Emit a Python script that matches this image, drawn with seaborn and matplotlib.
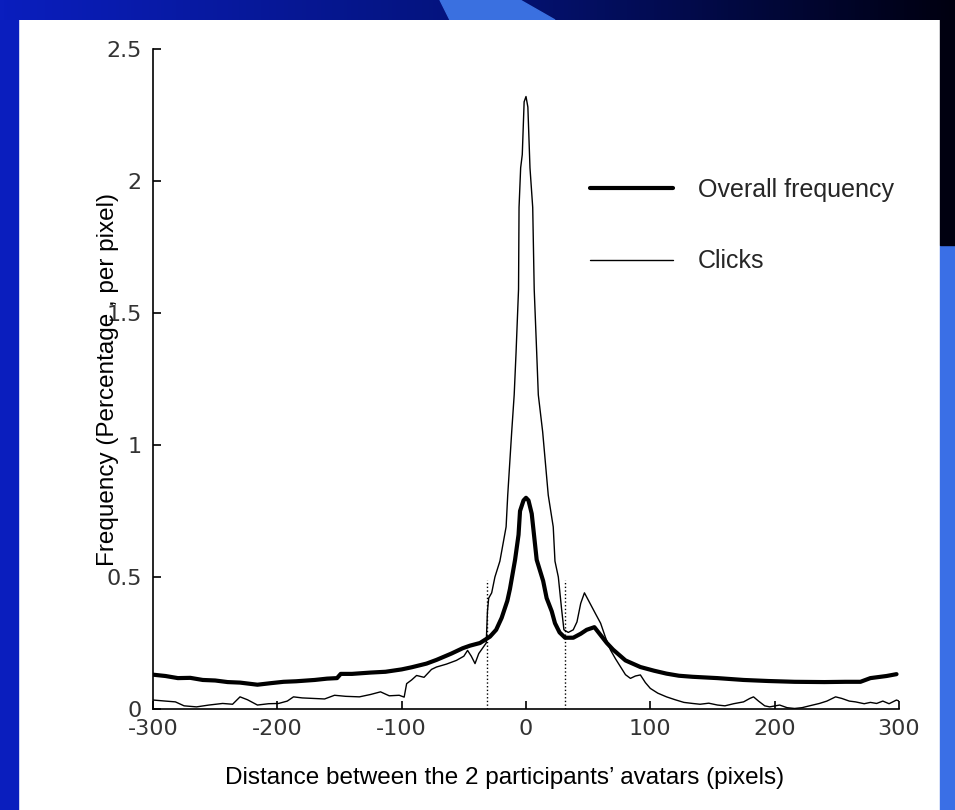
import numpy as np
import pandas as pd
import matplotlib
matplotlib.use("Agg")
import matplotlib.pyplot as plt
from matplotlib.patches import Rectangle, Polygon
from matplotlib.colors import LinearSegmentedColormap
import seaborn as sns

# Overall frequency (thick curve)
overall_x = [-300, -290, -280, -270, -260, -250, -240, -230, -216, -205, -195, -185,
             -170, -160, -152, -149, -140, -125, -113, -100, -92, -80, -72, -60, -51,
             -45, -37, -29, -24, -19.6, -15, -12.9, -8.8, -6, -4.8, -2, 0, 2, 4.6,
             8.6, 13.8, 16.6, 20.7, 23.3, 27, 31.4, 38, 44, 48.8, 55, 60, 65, 70, 80,
             92, 103, 113, 123, 134, 154, 175, 195, 216, 240, 257, 269, 277, 290, 298]
overall_y = [0.130, 0.125, 0.117, 0.118, 0.110, 0.108, 0.102, 0.100, 0.092, 0.098, 0.103, 0.105,
             0.110, 0.115, 0.117, 0.133, 0.133, 0.138, 0.141, 0.150, 0.158, 0.172, 0.186, 0.210, 0.230,
             0.240, 0.250, 0.274, 0.300, 0.345, 0.410, 0.455, 0.565, 0.660, 0.750, 0.790, 0.800, 0.790, 0.740,
             0.565, 0.485, 0.420, 0.370, 0.325, 0.290, 0.270, 0.270, 0.285, 0.300, 0.310, 0.280, 0.250, 0.225, 0.184,
             0.159, 0.145, 0.134, 0.126, 0.122, 0.117, 0.110, 0.106, 0.103, 0.102, 0.103, 0.103, 0.117, 0.125, 0.132]

# Clicks (thin curve)
clicks_x = [-300, -290, -282, -275, -265, -255, -244, -236, -230, -224, -216, -207, -199,
            -192, -187, -180, -171, -162, -154, -145, -134, -125, -117, -110, -102, -98,
            -96, -92, -88, -82, -76, -72, -64, -56, -50, -47, -44, -41, -38, -35, -32,
            -31, -30, -27.6, -25, -21, -16, -14.7, -11.5, -9.5, -8, -6, -5.6, -4.3, -3,
            -1.5, 0, 1.5, 3.2, 5.4, 6.6, 8.6, 9.9, 13.4, 17.9, 21.9, 23.3, 26, 28.7,
            30.5, 34, 38, 41, 44, 47, 51.5, 56, 60, 64, 68, 72, 76, 80, 84, 88, 92, 96,
            100, 106, 113, 120, 127, 134, 140, 147, 154, 160, 167, 175, 180, 183, 187,
            192, 196, 204, 210, 216, 222, 228, 236, 242, 249, 254, 260, 265, 272, 277,
            282, 287, 292, 298, 300]
clicks_y = [0.034, 0.030, 0.027, 0.012, 0.008, 0.015, 0.021, 0.018, 0.046, 0.035, 0.015, 0.020, 0.021,
            0.030, 0.046, 0.042, 0.040, 0.038, 0.052, 0.048, 0.046, 0.055, 0.065, 0.050, 0.052, 0.045,
            0.096, 0.110, 0.127, 0.120, 0.150, 0.159, 0.170, 0.184, 0.200, 0.222, 0.200, 0.172, 0.210, 0.230, 0.250,
            0.370, 0.420, 0.440, 0.500, 0.560, 0.690, 0.810, 1.050, 1.190, 1.350, 1.590, 1.900, 2.050, 2.100,
            2.300, 2.320, 2.280, 2.050, 1.900, 1.590, 1.350, 1.190, 1.050, 0.810, 0.690, 0.560, 0.500, 0.375,
            0.300, 0.290, 0.300, 0.330, 0.400, 0.440, 0.400, 0.360, 0.325, 0.270, 0.223, 0.190, 0.160, 0.130, 0.116, 0.125, 0.129, 0.100,
            0.078, 0.060, 0.046, 0.035, 0.025, 0.021, 0.018, 0.022, 0.015, 0.012, 0.020, 0.027, 0.040, 0.046, 0.030,
            0.012, 0.008, 0.015, 0.005, 0.002, 0.005, 0.012, 0.021, 0.030, 0.046, 0.040, 0.030, 0.027, 0.020, 0.025,
            0.021, 0.030, 0.020, 0.034, 0.030]

# dotted markers at +/- 31 px
dotted_x = [-31, 31]
dotted_top = 0.49

x_ticks = [-300, -200, -100, 0, 100, 200, 300]
y_ticks = [0, 0.5, 1, 1.5, 2, 2.5]
y_tick_labels = ["0", "0.5", "1", "1.5", "2", "2.5"]

df_overall = pd.DataFrame({"x": overall_x, "y": overall_y})
df_clicks = pd.DataFrame({"x": clicks_x, "y": clicks_y})

sns.set_theme(style="white")
plt.rcParams["font.family"] = ["Liberation Sans", "DejaVu Sans"]

W, H = 955, 810
fig = plt.figure(figsize=(W / 100, H / 100), dpi=100)
fig.patch.set_facecolor("white")

# slide frame: blue left strip, dark gradient top, right strip
fig.add_artist(Rectangle((0, 0), 18 / W, 1, transform=fig.transFigure, color="#0a1ebe", zorder=0))
fig.add_artist(Rectangle((940 / W, 0), 15 / W, 1 - 245 / H, transform=fig.transFigure, color="#3a6fe6", zorder=0))
fig.add_artist(Rectangle((940 / W, 1 - 245 / H), 15 / W, 245 / H, transform=fig.transFigure, color="#000010", zorder=0))
top = fig.add_axes([0, 1 - 20 / H, 1, 20 / H])
grad_cmap = LinearSegmentedColormap.from_list("frame", ["#0a1ebe", "#04137a", "#000010"])
top.imshow(np.linspace(0, 1, 256)[None, :], aspect="auto", cmap=grad_cmap, extent=[0, 1, 0, 1])
top.add_patch(Polygon([(440 / W, 1), (520 / W, 1), (555 / W, 0), (450 / W, 0)], color="#3a70e0"))
top.set_xlim(0, 1)
top.set_ylim(0, 1)
top.axis("off")

ax = fig.add_axes([153 / W, 1 - 709 / H, 746 / W, 660 / H])
ax.set_facecolor("none")

sns.lineplot(data=df_overall, x="x", y="y", ax=ax, color="black", linewidth=3.0,
             estimator=None, sort=False, label="Overall frequency")
sns.lineplot(data=df_clicks, x="x", y="y", ax=ax, color="black", linewidth=1.0,
             estimator=None, sort=False, label="Clicks")
ax.vlines(dotted_x, 0, dotted_top, colors="black", linestyles=":", linewidth=1.0)

ax.set_xlim(-300, 300)
ax.set_ylim(0, 2.5)
ax.set_xticks(x_ticks)
ax.set_xticklabels([str(t) for t in x_ticks])
ax.set_yticks(y_ticks)
ax.set_yticklabels(y_tick_labels)
sns.despine(ax=ax)
for s in ["left", "bottom"]:
    ax.spines[s].set_color("black")
    ax.spines[s].set_linewidth(1.2)
ax.tick_params(direction="in", length=6, width=1.2, color="black", pad=7,
               labelsize=16, labelcolor="#333333", left=True, bottom=True)
ax.tick_params(axis="y", pad=8)
for lab in ax.get_xticklabels() + ax.get_yticklabels():
    lab.set_family("DejaVu Sans")

ax.set_xlabel("Distance between the 2 participants\u2019 avatars (pixels)", fontsize=17.5, color="black")
ax.xaxis.set_label_coords((505 - 153) / 746, (709 - 778) / 660)
ax.set_ylabel("Frequency (Percentage , per pixel)", fontsize=17.5, color="black")
ax.yaxis.set_label_coords((108 - 153) / 746, (709 - 380) / 660)
ax.xaxis.label.set_va("center")
ax.yaxis.label.set_va("center")

leg = ax.legend(loc="upper left", bbox_to_anchor=((590 - 153) / 746, (709 - 178) / 660),
                frameon=False, fontsize=18, handlelength=3.3, handletextpad=1.0,
                labelspacing=1.9, borderpad=0, borderaxespad=0)

fig.savefig("out.png", dpi=100)
